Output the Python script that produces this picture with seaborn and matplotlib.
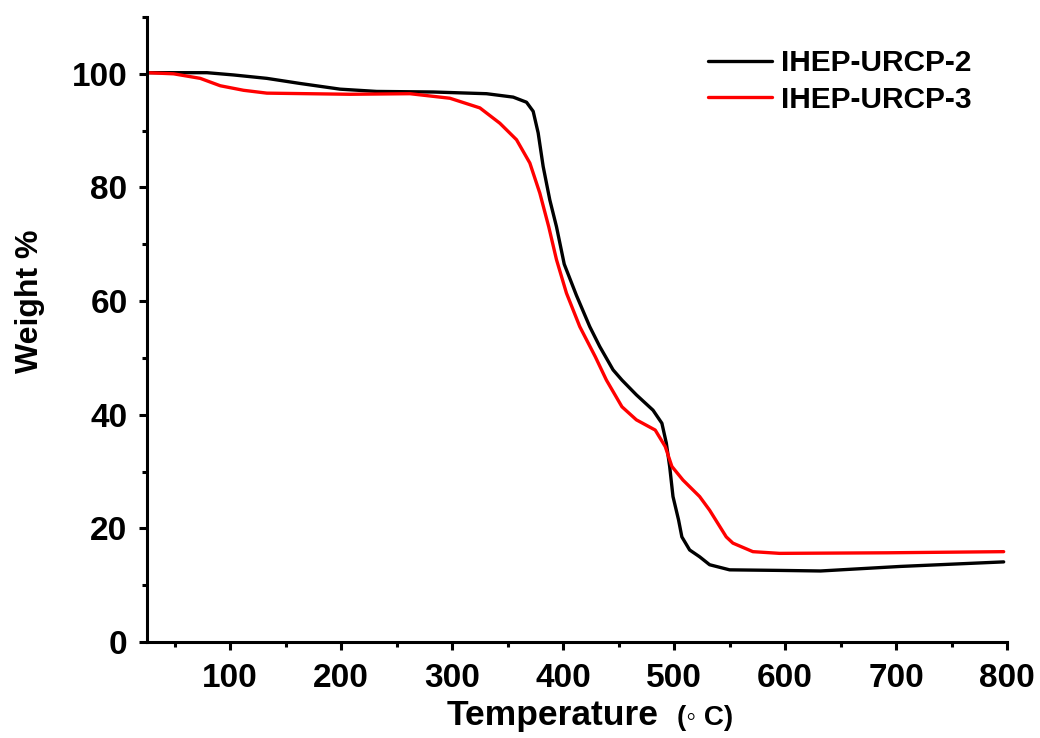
import matplotlib
matplotlib.use("Agg")
import matplotlib.pyplot as plt
import seaborn as sns
import pandas as pd
from matplotlib.ticker import MultipleLocator

# ---- data ----
temp_urcp2 = [25, 50, 79, 103, 133, 163, 199, 232, 283, 331, 355, 367, 373, 377.5,
              382, 388, 394, 401, 412, 424, 433, 445, 453, 466, 481, 489, 493, 496,
              499, 504, 507, 514, 523, 532, 550, 595, 632, 704, 797]
weight_urcp2 = [100.2, 100.2, 100.2, 99.8, 99.2, 98.3, 97.3, 96.9, 96.8, 96.5, 95.9,
                95.0, 93.4, 89.6, 83.7, 77.8, 73.1, 66.5, 61.0, 55.5, 52.0, 47.9,
                46.1, 43.5, 40.8, 38.5, 35.0, 30.9, 25.6, 21.5, 18.5, 16.2, 15.0,
                13.6, 12.7, 12.6, 12.5, 13.3, 14.1]

temp_urcp3 = [25, 49, 73, 91, 112, 133, 208, 262, 298, 325, 343, 358, 370, 379, 387,
              394, 403, 415, 429, 439, 453, 466, 483, 492, 498, 508, 523, 532, 547,
              553, 571, 595, 692, 797]
weight_urcp3 = [100.2, 100.0, 99.2, 97.9, 97.1, 96.6, 96.4, 96.5, 95.7, 94.0, 91.3,
                88.4, 84.3, 79.0, 73.1, 67.3, 61.4, 55.5, 50.2, 46.1, 41.4, 39.1,
                37.3, 34.4, 30.9, 28.5, 25.6, 23.2, 18.5, 17.4, 15.9, 15.6, 15.7, 15.9]

series_names = ["IHEP-URCP-2", "IHEP-URCP-3"]
series_colors = ["#000000", "#ff0000"]
x_ticks = [100, 200, 300, 400, 500, 600, 700, 800]
y_ticks = [0, 20, 40, 60, 80, 100]

df = pd.concat([
    pd.DataFrame({"T": temp_urcp2, "W": weight_urcp2, "s": series_names[0]}),
    pd.DataFrame({"T": temp_urcp3, "W": weight_urcp3, "s": series_names[1]}),
], ignore_index=True)

sns.set_style("ticks")
plt.rcParams["font.family"] = ["Liberation Sans", "DejaVu Sans"]
plt.rcParams["font.weight"] = "bold"
plt.rcParams["text.color"] = "black"
plt.rcParams["axes.edgecolor"] = "black"
plt.rcParams["xtick.color"] = "black"
plt.rcParams["ytick.color"] = "black"
plt.rcParams["axes.labelcolor"] = "black"

fig = plt.figure(figsize=(10.4, 7.38), dpi=100)
ax = fig.add_axes([147 / 1040, (738 - 642) / 738, 860 / 1040, 625 / 738])

sns.lineplot(data=df, x="T", y="W", hue="s", palette=dict(zip(series_names, series_colors)),
             sort=False, estimator=None, linewidth=2.4, ax=ax)

ax.set_xlim(25, 800)
ax.set_ylim(0, 110)
ax.set_xticks(x_ticks)
ax.set_yticks(y_ticks)
ax.xaxis.set_minor_locator(MultipleLocator(50))
ax.yaxis.set_minor_locator(MultipleLocator(10))
ax.tick_params(which="major", direction="out", length=6, width=2.2, labelsize=24,
               colors="black")
ax.tick_params(axis="x", which="major", pad=9)
ax.tick_params(axis="y", which="major", pad=8)
ax.tick_params(which="minor", direction="out", length=3.5, width=2.2, colors="black")
for lab in ax.get_xticklabels() + ax.get_yticklabels():
    lab.set_fontweight("bold")
for side in ["top", "right"]:
    ax.spines[side].set_visible(False)
for side in ["left", "bottom"]:
    ax.spines[side].set_linewidth(2.2)
    ax.spines[side].set_color("black")

ax.set_xlabel("")
ax.set_ylabel("")
fig.text(447 / 1040, (738 - 716) / 738, "Temperature", fontsize=25.5, fontweight="bold",
         ha="left", va="center", color="black")
fig.text(677 / 1040, (738 - 718) / 738, "(◦ C)", fontsize=20, fontweight="bold",
         ha="left", va="center", color="black", family=["Liberation Sans", "DejaVu Sans"])
fig.text(30 / 1040, (738 - 301) / 738, "Weight %", fontsize=23, fontweight="bold",
         ha="center", va="center", rotation=90, color="black")

leg = ax.legend(loc="center left", bbox_to_anchor=((708 - 147) / 860, (642 - 81.5) / 625),
                frameon=False, fontsize=21.5, handlelength=2.15, handletextpad=0.28,
                labelspacing=0.28, borderpad=0, borderaxespad=0)
for t in leg.get_texts():
    t.set_fontweight("bold")
    t.set_color("black")
for h in leg.get_lines():
    h.set_linewidth(2.4)

fig.savefig("out.png", dpi=100)
